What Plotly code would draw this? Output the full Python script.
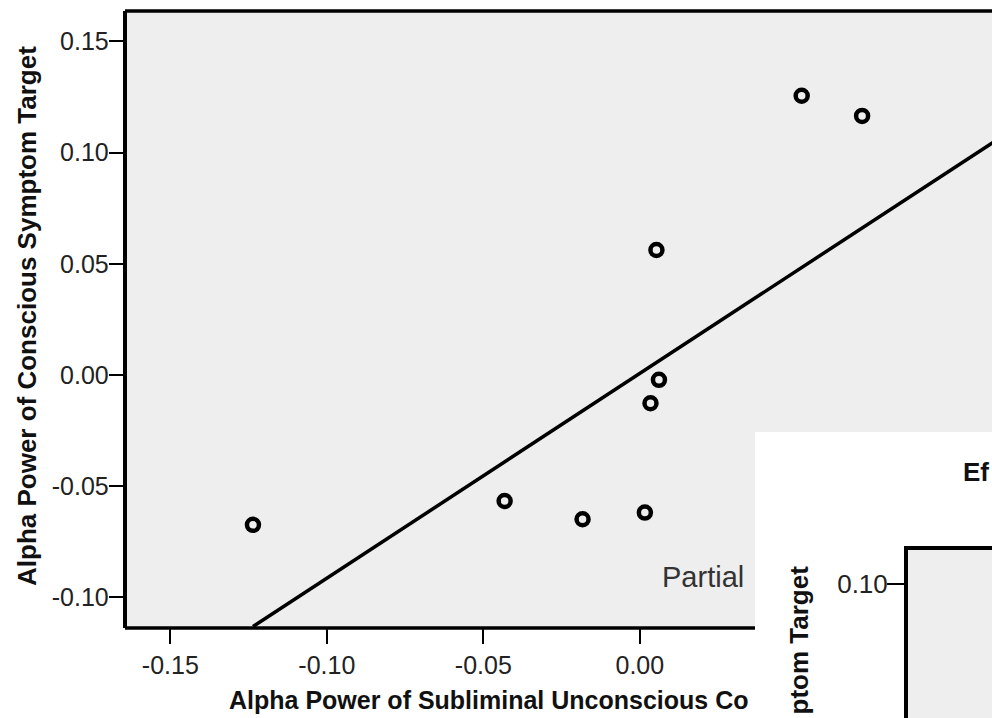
import plotly.graph_objects as go

W, H = 992, 718

# ---- data ----
x_vals = [-0.1236, -0.0432, -0.0183, 0.0016, 0.0034, 0.0061, 0.0053, 0.0517, 0.0710]
y_vals = [-0.0674, -0.0567, -0.0649, -0.0619, -0.0127, -0.0022, 0.0562, 0.1256, 0.1165]
fit_slope = 0.921
fit_intercept = 0.0007
fit_x = [-0.1236, 0.13]
fit_y = [fit_slope * v + fit_intercept for v in fit_x]

x_ticks = [-0.15, -0.10, -0.05, 0.00]
y_ticks = [0.15, 0.10, 0.05, 0.00, -0.05, -0.10]
inset_y_ticks = [0.10]

x_title = "Alpha Power of Subliminal Unconscious Co"
y_title = "Alpha Power of Conscious Symptom Target"
inset_title = "Ef"
inset_y_title = "ptom Target"
note_text = "Partial"

FONT = "Liberation Sans, Arial, sans-serif"
BG = "#eeeeee"


def px(v):
    return v / W


def py(v):
    return 1 - v / H


def fmt(v):
    s = f"{v:.2f}"
    return "0.00" if s == "-0.00" else s


fig = go.Figure()

fig.add_trace(go.Scatter(
    x=fit_x, y=fit_y, mode="lines",
    line=dict(color="black", width=3.5),
    xaxis="x", yaxis="y", showlegend=False, hoverinfo="skip"))

fig.add_trace(go.Scatter(
    x=x_vals, y=y_vals, mode="markers",
    marker=dict(symbol="circle-open", size=12, color="black",
                line=dict(width=4.5, color="black")),
    xaxis="x", yaxis="y", showlegend=False, cliponaxis=False))

# invisible trace to create the inset axes
fig.add_trace(go.Scatter(x=[], y=[], xaxis="x2", yaxis="y2", showlegend=False))

shapes = [
    # main plot background
    dict(type="rect", xref="paper", yref="paper", layer="below",
         x0=px(126.5), x1=1, y0=py(628), y1=py(11),
         fillcolor=BG, line=dict(width=0)),
    # overlapping inset panel (white)
    dict(type="rect", xref="paper", yref="paper", layer="below",
         x0=px(755), x1=1, y0=0, y1=py(432),
         fillcolor="white", line=dict(width=0)),
    # inset plot background
    dict(type="rect", xref="paper", yref="paper", layer="below",
         x0=px(908), x1=1, y0=0, y1=py(550),
         fillcolor=BG, line=dict(width=0)),
    # main top border
    dict(type="line", xref="paper", yref="paper", layer="above",
         x0=px(125), x1=1, y0=py(11), y1=py(11),
         line=dict(color="black", width=3.5)),
    # main bottom border (up to inset panel)
    dict(type="line", xref="paper", yref="paper", layer="above",
         x0=px(125), x1=px(755), y0=py(628), y1=py(628),
         line=dict(color="black", width=3.5)),
]

annotations = [
    dict(text=f"<b>{x_title}</b>", xref="paper", yref="paper",
         x=px(227), y=py(700), xanchor="left", yanchor="middle",
         showarrow=False, font=dict(family=FONT, size=25, color="#111")),
    dict(text=f"<b>{y_title}</b>", xref="paper", yref="paper",
         x=px(27), y=py(316), xanchor="center", yanchor="middle",
         textangle=-90, showarrow=False,
         font=dict(family=FONT, size=26, color="#111")),
    dict(text=note_text, xref="paper", yref="paper",
         x=px(660), y=py(577), xanchor="left", yanchor="middle",
         showarrow=False, font=dict(family=FONT, size=29, color="#333")),
    dict(text=f"<b>{inset_title}</b>", xref="paper", yref="paper",
         x=px(991), y=py(472), xanchor="right", yanchor="middle",
         showarrow=False, font=dict(family=FONT, size=26, color="#111")),
    dict(text=f"<b>{inset_y_title}</b>", xref="paper", yref="paper",
         x=px(798), y=py(564), xanchor="center", yanchor="top",
         textangle=-90, showarrow=False,
         font=dict(family=FONT, size=26, color="#111")),
]

fig.update_layout(
    width=W, height=H, autosize=False,
    margin=dict(l=0, r=0, t=0, b=0, pad=0),
    paper_bgcolor="white", plot_bgcolor="rgba(0,0,0,0)",
    font=dict(family=FONT, color="#222"),
    showlegend=False,
    shapes=shapes, annotations=annotations,
    xaxis=dict(domain=[px(126.5), 1], range=[-0.1640, 0.1125],
               anchor="y", showgrid=False, zeroline=False, showline=False,
               tickmode="array", tickvals=x_ticks,
               ticktext=[fmt(v) for v in x_ticks],
               ticks="outside", ticklen=15, tickwidth=2, tickcolor="black",
               tickfont=dict(family=FONT, size=25, color="#222")),
    yaxis=dict(domain=[py(628), py(11)], range=[-0.1138, 0.1637],
               anchor="x", showgrid=False, zeroline=False,
               showline=True, linewidth=3.5, linecolor="black",
               tickmode="array", tickvals=y_ticks,
               ticktext=[fmt(v) for v in y_ticks],
               ticks="outside", ticklen=14, tickwidth=2, tickcolor="black",
               ticklabelstandoff=-5,
               tickfont=dict(family=FONT, size=25, color="#222")),
    xaxis2=dict(domain=[px(908), 1], range=[0, 1], anchor="y2", side="top",
                showgrid=False, zeroline=False, showline=True,
                linewidth=4, linecolor="black",
                showticklabels=False, ticks=""),
    yaxis2=dict(domain=[0, py(550)], range=[0.0516, 0.1122], anchor="x2",
                showgrid=False, zeroline=False, showline=True,
                linewidth=4, linecolor="black",
                tickmode="array", tickvals=inset_y_ticks,
                ticktext=[fmt(v) for v in inset_y_ticks],
                ticks="outside", ticklen=17, tickwidth=2, tickcolor="black",
                ticklabelstandoff=-6,
                tickfont=dict(family=FONT, size=26, color="#222")),
)

fig.write_html("out.html")
